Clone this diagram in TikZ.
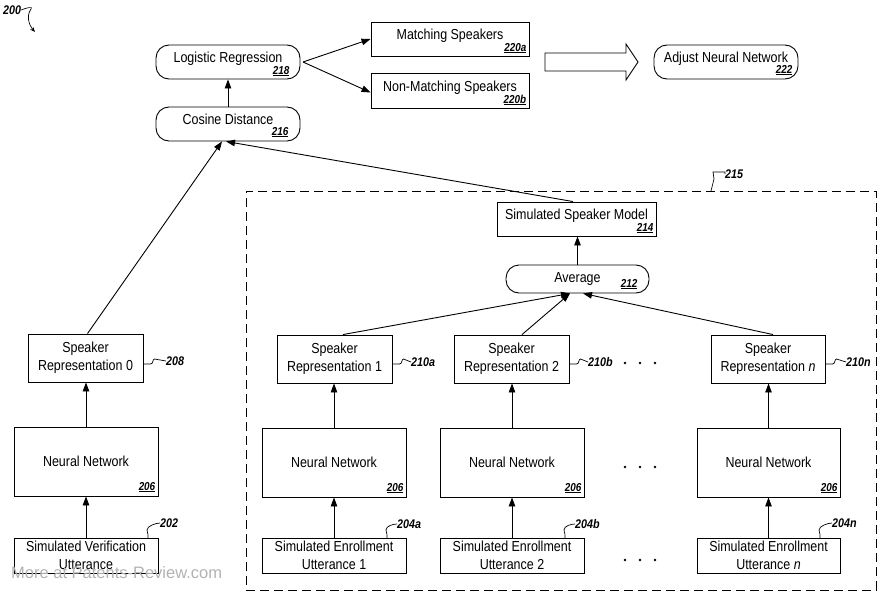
\documentclass[tikz,border=0pt]{standalone}
\usepackage{fontspec}
\setmainfont{Liberation Sans}[FakeStretch=0.86]
\newfontfamily\wmfont{Liberation Sans}
\usetikzlibrary{arrows.meta,calc}
\tikzset{
  box/.style={draw, line width=0.9pt, inner sep=0pt, align=center,
    font=\fontsize{14.5}{18}\selectfont},
  rbox/.style={box, rounded corners=13pt},
  num/.style={font=\fontsize{11.5}{12}\selectfont\bfseries\itshape, inner sep=1pt, anchor=south east},
  refl/.style={font=\fontsize{12.5}{12}\selectfont\bfseries\itshape, inner sep=0pt, anchor=west},
  conn/.style={line width=0.9pt, -{Triangle[length=9pt,width=6.5pt]}},
  lead/.style={line width=0.7pt},
}
\begin{document}
\begin{tikzpicture}[x=1pt,y=-1pt]
\useasboundingbox (0,0) rectangle (880,594);

% top row
\node[rbox, minimum width=144pt, minimum height=34pt, text depth=9pt] (lr) at (228,62) {Logistic Regression};
\node[num] (lrn) at ($(lr.south east)+(-10,-2)$) {\underline{218}};
\node[rbox, minimum width=144pt, minimum height=34pt, text depth=10pt] (cd) at (228,124) {Cosine Distance};
\node[num] (cdn) at ($(cd.south east)+(-11,-3)$) {\underline{216}};
\node[box, minimum width=158pt, minimum height=34pt, text depth=9pt] (ms) at (450,39) {Matching Speakers};
\node[num] (msn) at ($(ms.south east)+(-2,-2)$) {\underline{220a}};
\node[box, minimum width=158pt, minimum height=35pt, text depth=9pt] (nms) at (450,90.5) {Non-Matching Speakers};
\node[num] (nmsn) at ($(nms.south east)+(-2,-2)$) {\underline{220b}};
\node[rbox, minimum width=144pt, minimum height=34pt, text depth=9pt] (anl) at (726,62) {Adjust Neural Network};
\node[num] (anln) at ($(anl.south east)+(-5,-3)$) {\underline{222}};

% group 215
\node[draw, line width=1pt, dash pattern=on 9pt off 5pt, minimum width=630pt, minimum height=399pt, inner sep=0pt] (grp) at (561,390.5) {};
\node[box, minimum width=159pt, minimum height=34pt, text depth=10pt] (ssm) at (576.5,219) {Simulated Speaker Model};
\node[num] (ssmn) at ($(ssm.south east)+(-2,-2)$) {\underline{214}};
\node[rbox, minimum width=143pt, minimum height=28pt] (avg) at (577.5,279) {Average};
\node[num] (avgn) at ($(avg.south east)+(-11,-3)$) {\underline{212}};

% left column
\node[box, minimum width=115pt, minimum height=48pt] (sr0) at (85.5,358) {Speaker\\Representation 0};
\node[box, minimum width=144pt, minimum height=69pt] (nn0) at (86,461.5) {Neural Network};
\node[num] (nn0n) at ($(nn0.south east)+(-2,-3)$) {\underline{206}};
\node[box, minimum width=144pt, minimum height=35pt] (svu) at (86,555.5) {Simulated Verification\\Utterance};

% enrollment columns
\node[box, minimum width=115pt, minimum height=48pt] (sr1) at (334.5,359) {Speaker\\Representation 1};
\node[box, minimum width=144pt, minimum height=69pt] (nn1) at (334,462.5) {Neural Network};
\node[num] (nn1n) at ($(nn1.south east)+(-2,-3)$) {\underline{206}};
\node[box, minimum width=144pt, minimum height=35pt] (seu1) at (334,555.5) {Simulated Enrollment\\Utterance 1};

\node[box, minimum width=115pt, minimum height=48pt] (sr2) at (511.5,359) {Speaker\\Representation 2};
\node[box, minimum width=144pt, minimum height=69pt] (nn2) at (512,462.5) {Neural Network};
\node[num] (nn2n) at ($(nn2.south east)+(-2,-3)$) {\underline{206}};
\node[box, minimum width=144pt, minimum height=35pt] (seu2) at (512,555.5) {Simulated Enrollment\\Utterance 2};

\node[box, minimum width=114pt, minimum height=48pt] (srn) at (768,359) {Speaker\\Representation \textit{n}};
\node[box, minimum width=143pt, minimum height=69pt] (nnn) at (768.5,462.5) {Neural Network};
\node[num] (nnnn) at ($(nnn.south east)+(-2,-3)$) {\underline{206}};
\node[box, minimum width=143pt, minimum height=35pt] (seun) at (768.5,555.5) {Simulated Enrollment\\Utterance \textit{n}};

% vertical arrows
\draw[conn] (svu.north) -- (nn0.south);
\draw[conn] (nn0.north) -- (nn0.north |- sr0.south);
\draw[conn] (seu1.north) -- (nn1.south);
\draw[conn] (nn1.north) -- (nn1.north |- sr1.south);
\draw[conn] (seu2.north) -- (nn2.south);
\draw[conn] (nn2.north) -- (nn2.north |- sr2.south);
\draw[conn] (seun.north) -- (nnn.south);
\draw[conn] (nnn.north) -- (nnn.north |- srn.south);

% to average
\draw[conn] ($(sr1.north)+(8.5,0)$) -- ($(avg.south)+(-7.5,0)$);
\draw[conn] ($(sr2.north)+(10.5,0)$) -- ($(avg.south)+(-7.5,0)$);
\draw[conn] ($(srn.north)+(5,0)$) -- ($(avg.south)+(5.5,0)$);
\draw[conn] (avg.north) -- (avg.north |- ssm.south);

% to cosine distance
\draw[conn] ($(sr0.north)+(2,0)$) -- ($(cd.south)+(-6,0)$);
\draw[conn] ($(ssm.north)+(-3.5,0)$) -- ($(cd.south)+(-2,0)$);
\draw[conn] (cd.north) -- (lr.south);

% fork to matching
\coordinate (fork) at (303,62);
\draw[conn] (fork) -- (ms.west);
\draw[conn] (fork) -- ($(nms.west)+(0,2)$);

% big hollow arrow
\draw[line width=0.9pt, line join=miter] (545,53) -- (626,53) -- (626,44) -- (638,62) -- (626,80) -- (626,71) -- (545,71) -- cycle;

% dots
\foreach \yy in {363,467,560} {
  \foreach \xx in {625,640,655} { \fill (\xx,\yy) circle (1.3pt); }
}

% reference labels
\node[refl] (r200) at (3,10) {200};
\draw[lead, -{Stealth[length=5pt,width=4pt]}] (r200.east) .. controls +(4,-2) and +(3,-3) .. (31,9) .. controls (26,16) and (29,25) .. (35,32);

\node[refl] (r208) at (166,361) {208};
\draw[lead] ($(sr0.east)+(0,6)$) -- ++(7,0) .. controls +(3,0) and +(-2,0) .. ++(4,-5) -- (r208.west);
\node[refl] (r210a) at (411,362) {210a};
\draw[lead] ($(sr1.east)+(0,5)$) -- ++(7,0) .. controls +(3,0) and +(-2,0) .. ++(4,-5) -- (r210a.west);
\node[refl] (r210b) at (588,362) {210b};
\draw[lead] ($(sr2.east)+(0,5)$) -- ++(7,0) .. controls +(3,0) and +(-2,0) .. ++(4,-5) -- (r210b.west);
\node[refl] (r210n) at (846,362) {210\textit{n}};
\draw[lead] ($(srn.east)+(0,5)$) -- ++(7,0) .. controls +(3,0) and +(-2,0) .. ++(4,-5) -- (r210n.west);

\node[refl] (r202) at (160,523) {202};
\draw[lead] (148,538) .. controls +(1,-3) and +(0,3) .. (147,530) .. controls +(0,-4) and +(-4,0) .. (r202.west);
\node[refl] (r204a) at (397,524) {204a};
\draw[lead] (387,538) .. controls +(1,-3) and +(0,3) .. (386,530) .. controls +(0,-4) and +(-4,0) .. (r204a.west);
\node[refl] (r204b) at (575,524) {204b};
\draw[lead] (565,538) .. controls +(1,-3) and +(0,3) .. (564,530) .. controls +(0,-4) and +(-4,0) .. (r204b.west);
\node[refl] (r204n) at (832,523) {204\textit{n}};
\draw[lead] (820,538) .. controls +(1,-3) and +(0,3) .. (819,530) .. controls +(0,-4) and +(-4,0) .. (r204n.west);

\node[refl] (r215) at (725,174) {215};
\draw[lead] (711,191) -- (714,179) -- (713,172) -- (r215.west |- 0,172) -- (r215.west);

% watermark
\node[font=\wmfont\fontsize{16.5}{17}\selectfont, text=gray!60, anchor=west, inner sep=0pt] (wm) at (11,573) {More at Patents-Review.com};
\end{tikzpicture}
\end{document}
